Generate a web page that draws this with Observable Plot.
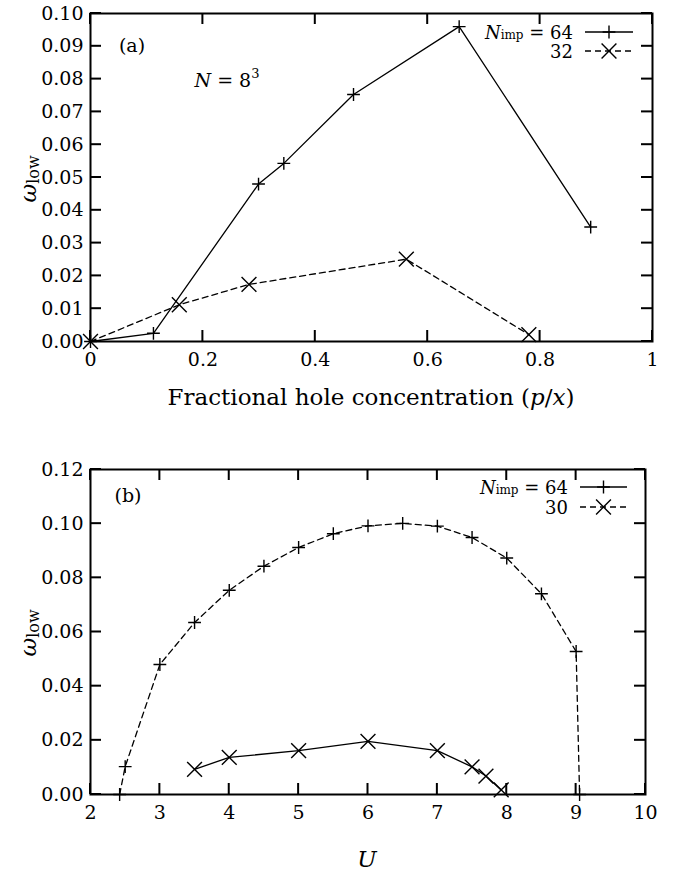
<!DOCTYPE html>
<html><head><meta charset="utf-8">
<script src="https://cdn.jsdelivr.net/npm/d3@7"></script>
<script src="https://cdn.jsdelivr.net/npm/@observablehq/plot@0.6"></script>
<style>
body{margin:0;background:#fff;width:677px;height:875px;overflow:hidden}
#chart svg{display:block;background:#fff}
</style></head><body><div id="chart"></div>
<script>
// ---- Panel (a) data ----
const aXTicks = [0, 0.2, 0.4, 0.6, 0.8, 1];
const aYTicks = [0, 0.01, 0.02, 0.03, 0.04, 0.05, 0.06, 0.07, 0.08, 0.09, 0.10];
const a64X = [0, 0.112, 0.299, 0.344, 0.468, 0.656, 0.890];
const a64Y = [0, 0.0025, 0.048, 0.0543, 0.0753, 0.096, 0.0349];
const a32X = [0, 0.158, 0.282, 0.562, 0.780];
const a32Y = [0, 0.0112, 0.0174, 0.0251, 0.0021];
const aLegend = ["64", "32"];
// ---- Panel (b) data ----
const bXTicks = [2, 3, 4, 5, 6, 7, 8, 9, 10];
const bYTicks = [0, 0.02, 0.04, 0.06, 0.08, 0.10, 0.12];
const bPlusU = [2.42, 2.5, 3, 3.5, 4, 4.5, 5, 5.5, 6, 6.5, 7, 7.5, 8, 8.5, 9, 9.05];
const bPlusW = [0, 0.0103, 0.048, 0.0635, 0.0754, 0.0843, 0.0912, 0.0963, 0.0992, 0.1001, 0.0991, 0.0949, 0.0873, 0.0741, 0.0528, 0];
const bTimesU = [3.5, 4, 5, 6, 7, 7.5, 7.7, 7.92];
const bTimesW = [0.0093, 0.0137, 0.0162, 0.0196, 0.0162, 0.0102, 0.0068, 0.0017];
const bLegend = ["64", "30"];

const FONT = "DejaVu Serif";
const RPLUS = 4.2, RTIMES = 6.8;
const TICK = 11, TW = 2;

function panel(c) {
  const fw = c.width - c.ml - c.mr, fh = c.height - c.mt - c.mb;
  const [x0, x1] = c.xd, [y0, y1] = c.yd;
  const tx = (x1 - x0) * TICK / fw, ty = (y1 - y0) * TICK / fh;
  const wx = (x1 - x0) * TW / 2 / fw, wy = (y1 - y0) * TW / 2 / fh;
  // inward tick marks as thin filled rectangles, in data units
  const tickRects = [];
  c.yt.forEach(v => {
    tickRects.push({x1: x0, x2: x0 + tx, y1: v - wy, y2: v + wy});
    tickRects.push({x1: x1 - tx, x2: x1, y1: v - wy, y2: v + wy});
  });
  c.xt.forEach(v => {
    tickRects.push({x1: v - wx, x2: v + wx, y1: y0, y2: y0 + ty});
    tickRects.push({x1: v - wx, x2: v + wx, y1: y1 - ty, y2: y1});
  });
  const marks = [];
  c.series.forEach(s => {
    const data = s.x.map((x, i) => ({x, y: s.y[i]}));
    marks.push(Plot.line(data, {x: "x", y: "y", stroke: "black", strokeWidth: 1.3, strokeDasharray: s.dash ? "6,4" : null}));
    marks.push(Plot.dot(data, {x: "x", y: "y", symbol: s.symbol, r: s.symbol === "plus" ? RPLUS : RTIMES, stroke: "black", strokeWidth: 1.4}));
  });
  marks.push(Plot.rect(tickRects, {x1: "x1", x2: "x2", y1: "y1", y2: "y2", fill: "black"}));
  marks.push(Plot.axisY({ticks: c.yt, anchor: "left", tickSize: 0, tickPadding: 7, tickFormat: c.yf, label: null, fill: "black"}));
  marks.push(Plot.axisX({ticks: c.xt, anchor: "bottom", tickSize: 0, tickPadding: 11, tickFormat: c.xf, label: null, fill: "black"}));
  marks.push(Plot.frame({stroke: "black", strokeWidth: 2}));
  return Plot.plot({
    width: c.width, height: c.height,
    marginTop: c.mt, marginRight: c.mr, marginBottom: c.mb, marginLeft: c.ml,
    x: {domain: c.xd}, y: {domain: c.yd},
    style: {fontFamily: FONT, fontSize: "19px", color: "black", background: "white"},
    marks
  });
}

function addText(svg, x, y, parts, opts = {}) {
  const t = svg.append("text").attr("x", x).attr("y", y)
    .attr("font-family", FONT).attr("font-size", opts.size || 19)
    .attr("text-anchor", opts.anchor || "middle").attr("dominant-baseline", "central").attr("fill", "black");
  if (opts.rotate) t.attr("transform", `rotate(-90 ${x} ${y})`);
  parts.forEach(p => {
    const s = t.append("tspan").text(p.t);
    if (p.i) s.attr("font-style", "italic");
    if (p.size) s.attr("font-size", p.size);
    if (p.dy) s.attr("dy", p.dy);
  });
  return t;
}

function legend(svg, rows, textX, lineX1, lineX2, y0, dyRow, styles) {
  rows.forEach((lab, i) => {
    const y = y0 + i * dyRow;
    const parts = i === 0
      ? [{t: "N", i: true}, {t: "imp", size: 12, dy: 3}, {t: " = " + lab, dy: -3}]
      : [{t: lab}];
    addText(svg, textX, y, parts, {anchor: "end", size: 18});
    const st = styles[i];
    svg.append("line").attr("x1", lineX1).attr("x2", lineX2).attr("y1", y).attr("y2", y)
      .attr("stroke", "black").attr("stroke-width", 1.3).attr("stroke-dasharray", st.dash ? "6,4" : null);
    const sym = st.symbol === "plus" ? d3.symbolPlus : d3.symbolTimes;
    const r = st.symbol === "plus" ? RPLUS : RTIMES;
    svg.append("path").attr("d", d3.symbol(sym, r * r * Math.PI)())
      .attr("transform", `translate(${(lineX1 + lineX2) / 2},${y})`)
      .attr("fill", "none").attr("stroke", "black").attr("stroke-width", 1.4);
  });
}

const chart = document.getElementById("chart");

// Panel (a)
const pa = panel({
  width: 677, height: 420, mt: 13, mr: 25, mb: 79, ml: 90,
  xd: [0, 1], yd: [0, 0.10], xt: aXTicks, yt: aYTicks,
  xf: d3.format("~g"), yf: d3.format(".2f"),
  series: [
    {x: a64X, y: a64Y, symbol: "plus", dash: false},
    {x: a32X, y: a32Y, symbol: "times", dash: true}
  ]
});
chart.appendChild(pa);
const sa = d3.select(pa);
addText(sa, 132, 45, [{t: "(a)"}]);
addText(sa, 227, 80, [{t: "N", i: true}, {t: " = 8"}, {t: "3", size: 13, dy: -7}]);
legend(sa, aLegend, 573, 585, 633, 32, 19, [{symbol: "plus", dash: false}, {symbol: "times", dash: true}]);
addText(sa, 371, 397, [{t: "Fractional hole concentration ("}, {t: "p", i: true}, {t: "/"}, {t: "x", i: true}, {t: ")"}], {size: 23});
addText(sa, 28, 179, [{t: "ω", i: true, size: 23}, {t: "low", size: 16, dy: 5}], {rotate: true, size: 20});

// Panel (b)
const pb = panel({
  width: 677, height: 455, mt: 49, mr: 32, mb: 81, ml: 90,
  xd: [2, 10], yd: [0, 0.12], xt: bXTicks, yt: bYTicks,
  xf: d3.format("d"), yf: d3.format(".2f"),
  series: [
    {x: bPlusU, y: bPlusW, symbol: "plus", dash: true},
    {x: bTimesU, y: bTimesW, symbol: "times", dash: false}
  ]
});
chart.appendChild(pb);
const sb = d3.select(pb);
addText(sb, 128, 75, [{t: "(b)"}]);
legend(sb, bLegend, 568, 580, 627, 67, 20, [{symbol: "plus", dash: false}, {symbol: "times", dash: true}]);
addText(sb, 367, 439, [{t: "U", i: true}], {size: 23});
addText(sb, 28, 213, [{t: "ω", i: true, size: 23}, {t: "low", size: 16, dy: 5}], {rotate: true, size: 20});
</script></body></html>
